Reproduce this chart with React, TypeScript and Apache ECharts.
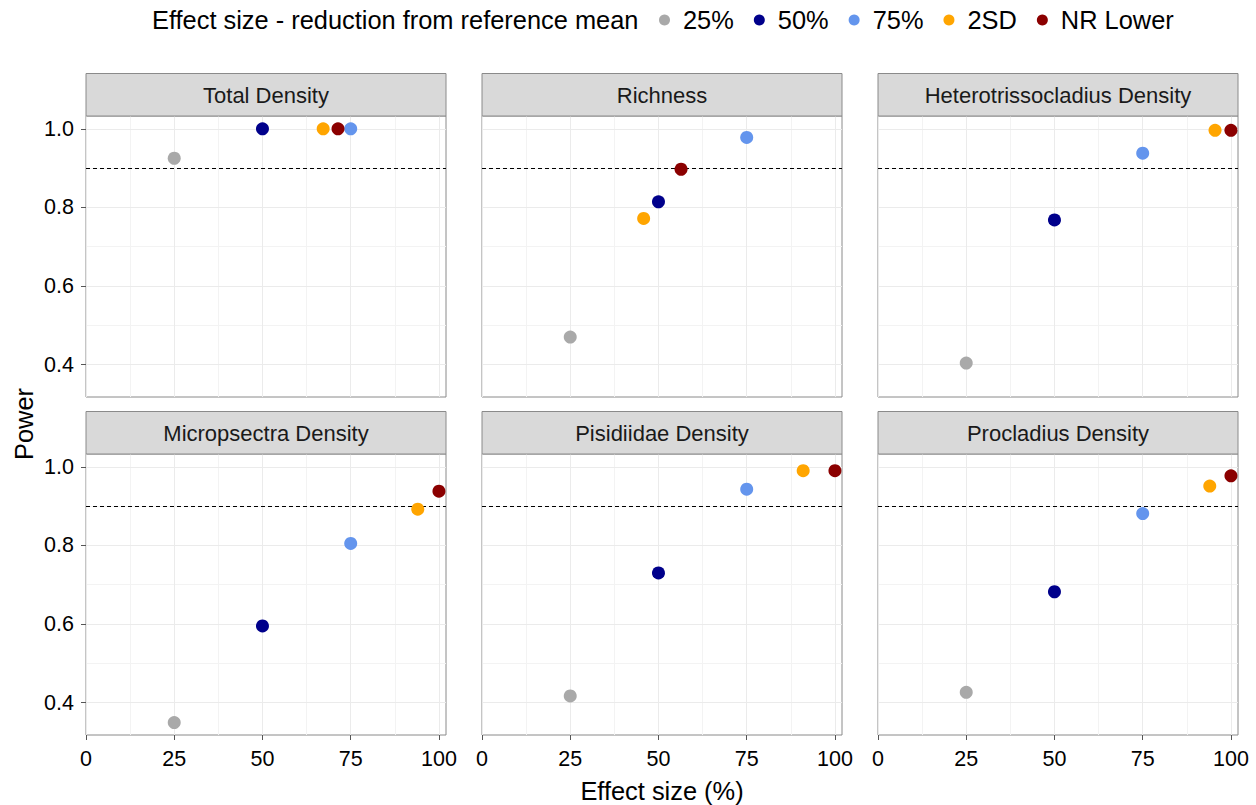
import React, { useEffect, useRef } from "react";
import * as echarts from "echarts";

// ---------- data ----------
const panelTitles = [
  "Total Density",
  "Richness",
  "Heterotrissocladius Density",
  "Micropsectra Density",
  "Pisidiidae Density",
  "Procladius Density",
];
const levelNames = ["25%", "50%", "75%", "2SD", "NR Lower"];
const levelColors = ["#A9A9A9", "#00008B", "#6495ED", "#FFA500", "#8B0000"];

// effect size (%) per panel, one array per level
const effect25 = [25, 25, 25, 25, 25, 25];
const effect50 = [50, 50, 50, 50, 50, 50];
const effect75 = [75, 75, 75, 75, 75, 75];
const effect2SD = [67.2, 45.8, 95.5, 94.0, 91.0, 94.0];
const effectNR = [71.4, 56.4, 100, 100, 100, 100];

// power per panel, one array per level
const power25 = [0.925, 0.47, 0.404, 0.349, 0.417, 0.426];
const power50 = [1.0, 0.814, 0.768, 0.595, 0.73, 0.682];
const power75 = [1.0, 0.978, 0.938, 0.805, 0.943, 0.881];
const power2SD = [1.0, 0.772, 0.996, 0.892, 0.99, 0.951];
const powerNR = [1.0, 0.897, 0.996, 0.938, 0.99, 0.977];

const xTicks = [0, 25, 50, 75, 100];
const xMinorGrid = [12.5, 37.5, 62.5, 87.5];
const yTicks = [0.4, 0.6, 0.8, 1.0];
const yMinorGrid = [0.5, 0.7, 0.9];
const powerThreshold = 0.9;

const legendTitle = "Effect size - reduction from reference mean";
const xTitle = "Effect size (%)";
const yTitle = "Power";

const effectByLevel = [effect25, effect50, effect75, effect2SD, effectNR];
const powerByLevel = [power25, power50, power75, power2SD, powerNR];

// ---------- layout ----------
const FONT = "'Liberation Sans', Arial, sans-serif";
const colLeft = [86, 482, 878];
const rowTop = [116, 454];
const panelW = 360;
const panelH = 281;
const stripH = 42.5;
const borderColor = "#8a8a8a";

export default function App() {
  const ref = useRef<HTMLDivElement>(null);

  useEffect(() => {
    document.body.style.margin = "0";
    if (!ref.current) return;
    const chart = echarts.init(ref.current, undefined, { renderer: "svg" });

    const grids: any[] = [];
    const xAxes: any[] = [];
    const yAxes: any[] = [];
    const series: any[] = [];
    const graphics: any[] = [];

    panelTitles.forEach((title, i) => {
      const r = Math.floor(i / 3);
      const c = i % 3;
      grids.push({
        left: colLeft[c],
        top: rowTop[r],
        width: panelW,
        height: panelH,
        show: true,
        backgroundColor: "#ffffff",
        borderColor: borderColor,
        borderWidth: 1,
        containLabel: false,
      });
      xAxes.push({
        type: "value",
        gridIndex: i,
        min: 0,
        max: 102,
        axisLine: { show: false },
        splitLine: { show: false },
        axisTick: {
          show: r === 1,
          customValues: xTicks,
          length: 5,
          lineStyle: { color: "#555555", width: 1 },
        },
        axisLabel: {
          show: r === 1,
          customValues: xTicks,
          formatter: (v: number) => String(v),
          fontSize: 21.5,
          fontFamily: FONT,
          color: "#000000",
          margin: 13,
        },
      });
      yAxes.push({
        type: "value",
        gridIndex: i,
        min: 0.3175,
        max: 1.0325,
        axisLine: { show: false },
        splitLine: { show: false },
        axisTick: {
          show: c === 0,
          customValues: yTicks,
          length: 5,
          lineStyle: { color: "#555555", width: 1 },
        },
        axisLabel: {
          show: c === 0,
          customValues: yTicks,
          formatter: (v: number) => v.toFixed(1),
          fontSize: 21.5,
          fontFamily: FONT,
          color: "#000000",
          margin: 12,
        },
      });

      // grid lines
      series.push({
        type: "scatter",
        xAxisIndex: i,
        yAxisIndex: i,
        data: [],
        z: 1,
        silent: true,
        markLine: {
          z: 1,
          silent: true,
          symbol: ["none", "none"],
          label: { show: false },
          animation: false,
          data: [
            ...xMinorGrid.map((v) => ({ xAxis: v, lineStyle: { color: "#f3f3f3", width: 1, type: "solid" } })),
            ...yMinorGrid.map((v) => ({ yAxis: v, lineStyle: { color: "#f3f3f3", width: 1, type: "solid" } })),
            ...xTicks.map((v) => ({ xAxis: v, lineStyle: { color: "#ebebeb", width: 1, type: "solid" } })),
            ...yTicks.map((v) => ({ yAxis: v, lineStyle: { color: "#ebebeb", width: 1, type: "solid" } })),
          ],
        },
      });
      // threshold
      series.push({
        type: "scatter",
        xAxisIndex: i,
        yAxisIndex: i,
        data: [],
        z: 2,
        silent: true,
        markLine: {
          z: 2,
          silent: true,
          symbol: ["none", "none"],
          label: { show: false },
          animation: false,
          lineStyle: { color: "#000000", width: 1.1, type: [4, 3] },
          data: [{ yAxis: powerThreshold }],
        },
      });
      // points
      levelNames.forEach((name, k) => {
        series.push({
          type: "scatter",
          name,
          xAxisIndex: i,
          yAxisIndex: i,
          z: 4,
          symbol: "circle",
          symbolSize: 13,
          itemStyle: { color: levelColors[k], opacity: 1 },
          data: [[effectByLevel[k][i], powerByLevel[k][i]]],
        });
      });

      // strip
      graphics.push({
        type: "rect",
        shape: { x: colLeft[c], y: rowTop[r] - stripH, width: panelW, height: stripH },
        style: { fill: "#d9d9d9", stroke: borderColor, lineWidth: 1 },
        z: 10,
      });
      graphics.push({
        type: "text",
        x: colLeft[c] + panelW / 2,
        y: rowTop[r] - stripH / 2 + 1,
        style: {
          text: title,
          fontSize: 22,
          fontFamily: FONT,
          fill: "#1a1a1a",
          align: "center",
          verticalAlign: "middle",
        },
        z: 11,
      });
    });

    graphics.push({
      type: "text",
      x: 152,
      y: 20,
      style: {
        text: legendTitle,
        fontSize: 25.4,
        fontFamily: FONT,
        fill: "#000000",
        align: "left",
        verticalAlign: "middle",
      },
    });
    graphics.push({
      type: "text",
      x: 662,
      y: 791,
      style: {
        text: xTitle,
        fontSize: 25.4,
        fontFamily: FONT,
        fill: "#000000",
        align: "center",
        verticalAlign: "middle",
      },
    });
    graphics.push({
      type: "text",
      x: 24,
      y: 424,
      rotation: Math.PI / 2,
      style: {
        text: yTitle,
        fontSize: 25.4,
        fontFamily: FONT,
        fill: "#000000",
        align: "center",
        verticalAlign: "middle",
      },
    });

    chart.setOption({
      animation: false,
      backgroundColor: "#ffffff",
      legend: {
        data: levelNames,
        left: 659,
        top: 7.5,
        orient: "horizontal",
        icon: "circle",
        itemWidth: 27,
        itemHeight: 11,
        itemGap: 20,
        padding: 0,
        selectedMode: false,
        textStyle: { fontSize: 25.4, fontFamily: FONT, color: "#000000", lineHeight: 25 },
      },
      grid: grids,
      xAxis: xAxes,
      yAxis: yAxes,
      series,
      graphic: graphics,
    });

    return () => chart.dispose();
  }, []);

  return <div ref={ref} style={{ width: 1256, height: 805 }} />;
}
